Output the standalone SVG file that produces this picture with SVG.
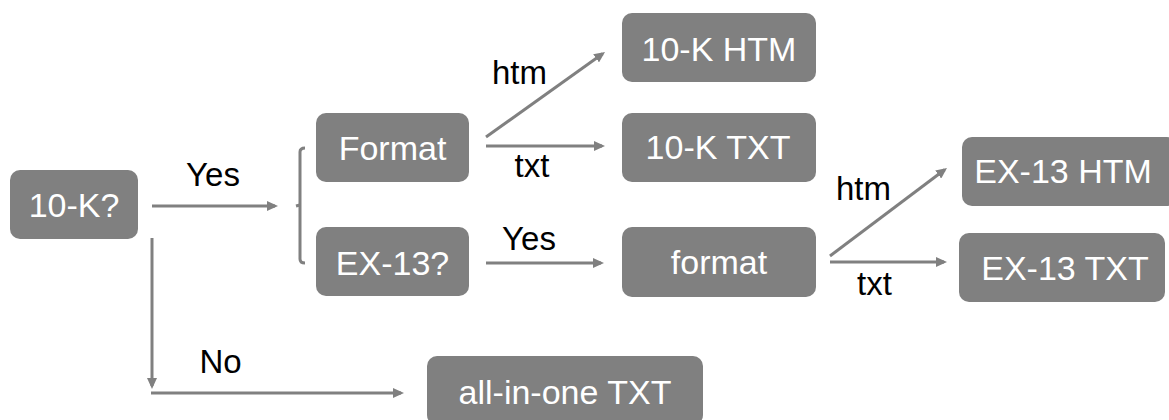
<svg xmlns="http://www.w3.org/2000/svg" width="1169" height="420" viewBox="0 0 1169 420">
<style>
.box{fill:#808080;}
.nt{font-family:"Liberation Sans",Arial,sans-serif;font-size:34px;fill:#ffffff;text-anchor:middle;}
.lb{font-family:"Liberation Sans",Arial,sans-serif;font-size:33px;fill:#000000;text-anchor:middle;}
.ln{stroke:#808080;stroke-width:3;fill:none;}
</style>
<defs>
<marker id="ah" markerUnits="userSpaceOnUse" markerWidth="11" markerHeight="10" refX="8" refY="5" orient="auto">
<path d="M0,0 L11,5 L0,10 z" fill="#808080"/>
</marker>
</defs>
<rect width="1169" height="420" fill="#ffffff"/>
<g id="connectors">
<line class="ln" x1="152" y1="206" x2="275" y2="206" marker-end="url(#ah)"/>
<path class="ln" d="M305,148 Q300,148 300,152 V259 Q300,263 305,263" stroke-width="2.5"/>
<path class="ln" d="M300,205 L296,206" stroke-width="2.5"/>
<line class="ln" x1="486" y1="137" x2="602.6" y2="53.7" marker-end="url(#ah)"/>
<line class="ln" x1="486" y1="146" x2="602" y2="146" marker-end="url(#ah)"/>
<line class="ln" x1="486" y1="263" x2="601" y2="263" marker-end="url(#ah)"/>
<line class="ln" x1="830" y1="256" x2="944.6" y2="169.8" marker-end="url(#ah)"/>
<line class="ln" x1="830" y1="262" x2="944" y2="262" marker-end="url(#ah)"/>
<line class="ln" x1="152" y1="238" x2="152" y2="386" marker-end="url(#ah)"/>
<line class="ln" x1="151" y1="393" x2="401" y2="393" marker-end="url(#ah)"/>
<text class="lb" x="213" y="186">Yes</text>
<text class="lb" x="519.5" y="84">htm</text>
<text class="lb" x="532" y="177">txt</text>
<text class="lb" x="529" y="250">Yes</text>
<text class="lb" x="863.5" y="200">htm</text>
<text class="lb" x="874.5" y="295">txt</text>
<text class="lb" x="220.5" y="373">No</text>
</g>
<g id="n-10k"><rect class="box" x="10" y="170" width="128" height="69" rx="10"/><text class="nt" x="74" y="217">10-K?</text></g>
<g id="n-format1"><rect class="box" x="316" y="113" width="153" height="69" rx="10"/><text class="nt" x="392.5" y="160">Format</text></g>
<g id="n-ex13q"><rect class="box" x="316" y="227" width="153" height="69" rx="10"/><text class="nt" x="392.5" y="275">EX-13?</text></g>
<g id="n-10khtm"><rect class="box" x="622" y="13" width="194" height="69" rx="10"/><text class="nt" x="719" y="61">10-K HTM</text></g>
<g id="n-10ktxt"><rect class="box" x="622" y="113" width="194" height="69" rx="10"/><text class="nt" x="718" y="159">10-K TXT</text></g>
<g id="n-format2"><rect class="box" x="622" y="227" width="194" height="70" rx="10"/><text class="nt" x="719" y="274">format</text></g>
<g id="n-ex13htm"><rect class="box" x="962" y="137" width="215" height="69" rx="10"/><text class="nt" x="1063" y="183">EX-13 HTM</text></g>
<g id="n-ex13txt"><rect class="box" x="959" y="233" width="206" height="69" rx="10"/><text class="nt" x="1065" y="280">EX-13 TXT</text></g>
<g id="n-allinone"><rect class="box" x="427" y="356" width="276" height="69" rx="10"/><text class="nt" x="565" y="404">all-in-one TXT</text></g>
</svg>
